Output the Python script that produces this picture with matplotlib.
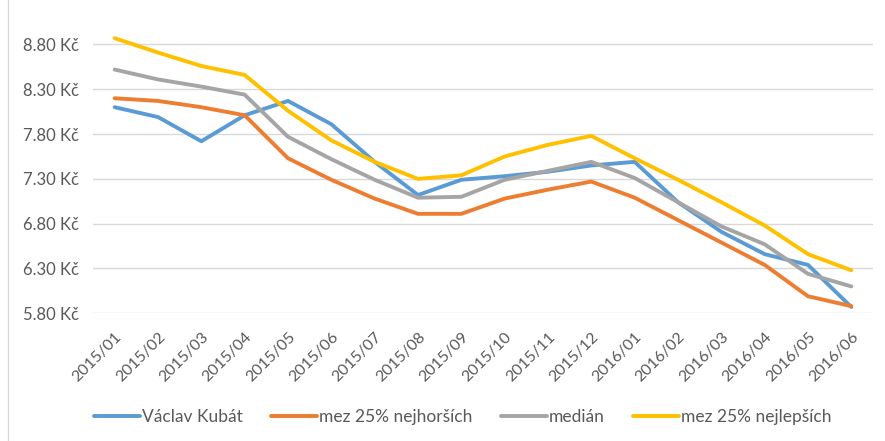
import matplotlib.pyplot as plt
import matplotlib.lines as mlines
import numpy as np

# data
months = ["2015/01", "2015/02", "2015/03", "2015/04", "2015/05", "2015/06",
          "2015/07", "2015/08", "2015/09", "2015/10", "2015/11", "2015/12",
          "2016/01", "2016/02", "2016/03", "2016/04", "2016/05", "2016/06"]
kubat = [8.10, 7.99, 7.72, 8.01, 8.17, 7.91, 7.49, 7.12, 7.29, 7.33, 7.38, 7.45,
         7.49, 7.04, 6.71, 6.46, 6.34, 5.87]
worst25 = [8.20, 8.17, 8.10, 8.01, 7.53, 7.29, 7.08, 6.91, 6.91, 7.08, 7.18, 7.27,
           7.09, 6.84, 6.59, 6.34, 5.99, 5.88]
median = [8.52, 8.41, 8.33, 8.24, 7.77, 7.52, 7.29, 7.09, 7.10, 7.29, 7.39, 7.49,
          7.31, 7.04, 6.77, 6.57, 6.24, 6.10]
best25 = [8.87, 8.71, 8.56, 8.46, 8.06, 7.73, 7.49, 7.30, 7.34, 7.55, 7.68, 7.78,
          7.53, 7.29, 7.04, 6.78, 6.46, 6.28]
series_names = ["Václav Kubát", "mez 25% nejhorších", "medián", "mez 25% nejlepších"]
yticks = [5.8, 6.3, 6.8, 7.3, 7.8, 8.3, 8.8]

colors = ["#5B9BD5", "#ED7D31", "#A5A5A5", "#FFC000"]
text_color = "#595959"

plt.rcParams["font.family"] = ["Lato", "DejaVu Sans"]

fig = plt.figure(figsize=(8.85, 4.41), dpi=100)
ax = fig.add_axes([93 / 885, 0.2896, 780 / 885, 0.640])

x = np.arange(len(months))
handles = []
for vals, name, c in zip([kubat, worst25, median, best25], series_names, colors):
    ax.plot(x, vals, color=c, lw=2.8, solid_capstyle="round", solid_joinstyle="round")
    handles.append(mlines.Line2D([], [], color=c, lw=2.8, solid_capstyle="round", label=name))

ax.set_xlim(-0.5, len(months) - 0.5)
ax.set_ylim(5.8, 8.95)
ax.set_yticks(yticks)
ax.set_yticklabels([f"{v:.2f} Kč" for v in yticks])
ax.set_xticks(x)
ax.set_xticklabels(months, rotation=45, ha="right", va="top", rotation_mode="anchor")

ax.grid(axis="y", color="#D9D9D9", lw=1)
ax.set_axisbelow(True)
for s in ax.spines.values():
    s.set_visible(False)
ax.tick_params(axis="both", length=0, colors=text_color)
ax.tick_params(axis="y", pad=10, labelsize=12)
ax.tick_params(axis="x", pad=12, labelsize=11.5)

# chart border on the left
fig.add_artist(mlines.Line2D([8 / 885, 8 / 885], [0, 1], color="#D9D9D9", lw=1,
                             transform=fig.transFigure))

fig.legend(handles=handles, loc="center left", bbox_to_anchor=(0.098, 0.054),
           ncol=4, frameon=False, fontsize=12.5, labelcolor=text_color,
           handlelength=2.65, handletextpad=0.15, columnspacing=1.6, borderaxespad=0)

plt.savefig("out.png", dpi=100)
